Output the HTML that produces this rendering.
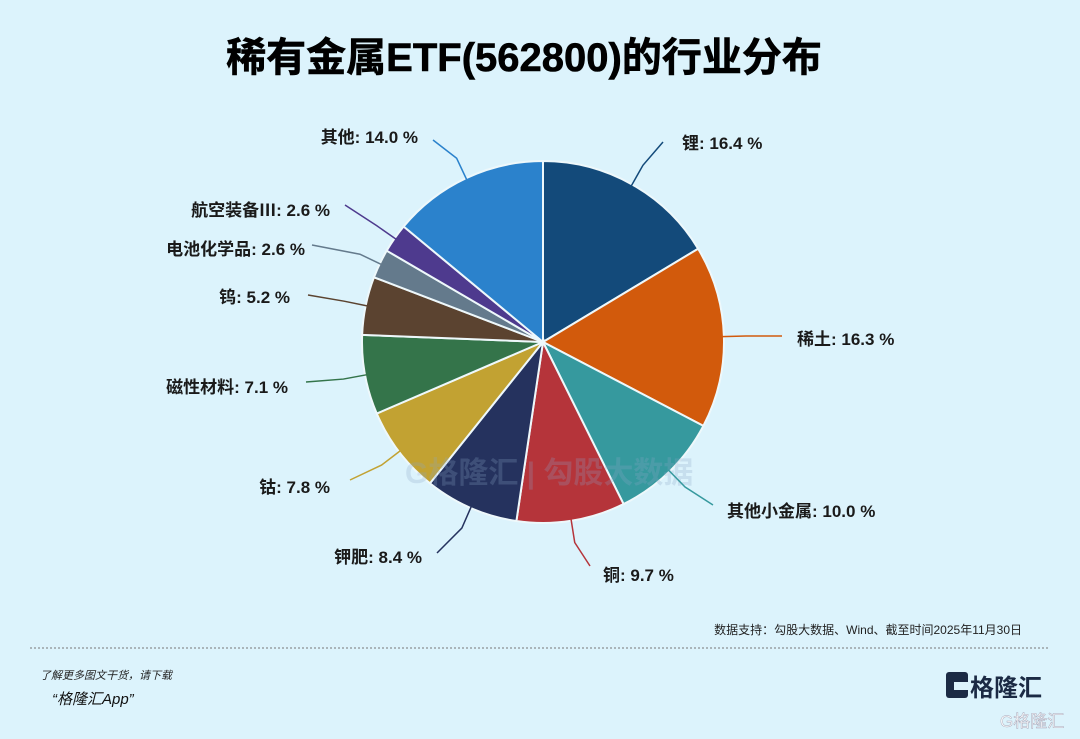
<!DOCTYPE html>
<html><head><meta charset="utf-8"><style>
body{margin:0;width:1080px;height:739px;background:#dcf3fc;overflow:hidden;font-family:"Liberation Sans","Noto Sans CJK SC",sans-serif;}
</style></head><body>
<svg id="s" width="1080" height="739" xmlns="http://www.w3.org/2000/svg" style="position:absolute;left:0;top:0">
<text x="524" y="71" text-anchor="middle" font-size="40" font-weight="bold" fill="#000" stroke="#000" stroke-width="0.6" font-family="Liberation Sans,Noto Sans CJK SC,sans-serif">稀有金属ETF(562800)的行业分布</text>
<g id="pie"></g>
<text x="405" y="483" font-size="30" font-weight="bold" fill="#8aa6c8" opacity="0.25" font-family="Liberation Sans,Noto Sans CJK SC,sans-serif">G格隆汇 | 勾股大数据</text>
<g id="lab" font-size="17" font-weight="bold" fill="#1a1a1a" font-family="Liberation Sans,Noto Sans CJK SC,sans-serif"></g>
<text x="1022" y="634" text-anchor="end" font-size="12" fill="#222" font-family="Liberation Sans,Noto Sans CJK SC,sans-serif">数据支持：勾股大数据、Wind、截至时间2025年11月30日</text>
<line x1="30" y1="648" x2="1050" y2="648" stroke="#777" stroke-dasharray="2,2" stroke-width="1"/>
<text x="40" y="679" font-size="11" font-style="italic" fill="#222" font-family="Liberation Sans,Noto Sans CJK SC,sans-serif">了解更多图文干货，请下载</text>
<text x="52" y="704" font-size="15" font-style="italic" fill="#111" font-family="Liberation Sans,Noto Sans CJK SC,sans-serif">“格隆汇App”</text>
<rect x="946" y="672" width="22" height="26" rx="3" fill="#1b2a44"/>
<rect x="954" y="682" width="14" height="8" fill="#dcf3fc"/>
<text x="970" y="696" font-size="24" font-weight="bold" fill="#1b2a44" font-family="Liberation Sans,Noto Sans CJK SC,sans-serif">格隆汇</text>
<text x="1000" y="727" font-size="17" fill="#fff" stroke="#aab" stroke-width="0.5" font-family="Liberation Sans,Noto Sans CJK SC,sans-serif">G格隆汇</text>
</svg>
<script>
var d=[["锂",16.4,"#134a7a",[663,142],[682,149,"start"]],
["稀土",16.3,"#d25a0c",[782,336],[797,345,"start"]],
["其他小金属",10.0,"#36999e",[713,505],[727,517,"start"]],
["铜",9.7,"#b5343a",[590,566],[603,581,"start"]],
["钾肥",8.4,"#25325e",[437,553],[422,563,"end"]],
["钴",7.8,"#c2a232",[350,480],[330,493,"end"]],
["磁性材料",7.1,"#34744a",[306,382],[288,393,"end"]],
["钨",5.2,"#5b4330",[308,295],[290,303,"end"]],
["电池化学品",2.6,"#647a8c",[312,245],[305,255,"end"]],
["航空装备Ⅲ",2.6,"#4e3a8e",[345,205],[330,216,"end"]],
["其他",14.0,"#2b82cc",[433,140],[418,143,"end"]]];
var cx=543,cy=342,r=181,tot=0;d.forEach(function(e){tot+=e[1]});
var a=-Math.PI/2,pie="",lab="";
function p(ang,rr){return [cx+rr*Math.cos(ang),cy+rr*Math.sin(ang)]}
d.forEach(function(e){var s=e[1]/tot*2*Math.PI,b=a+s;var p1=p(a,r),p2=p(b,r);
pie+='<path d="M'+cx+','+cy+'L'+p1+'A'+r+','+r+' 0 '+(s>Math.PI?1:0)+',1 '+p2+'Z" fill="'+e[2]+'" stroke="#eef8fb" stroke-width="2"/>';
var m=(a+b)/2,q1=p(m,r-2),q2=p(m,r+22);
lab+='<path d="M'+q1+'L'+q2+'Q'+q2+' '+e[3]+'" fill="none" stroke="'+e[2]+'" stroke-width="1.5"/>';
lab+='<text x="'+e[4][0]+'" y="'+e[4][1]+'" text-anchor="'+e[4][2]+'">'+e[0]+': '+e[1].toFixed(1)+' %</text>';
a=b;});
document.getElementById("pie").innerHTML=pie;document.getElementById("lab").innerHTML=lab;
</script>
</body></html>
